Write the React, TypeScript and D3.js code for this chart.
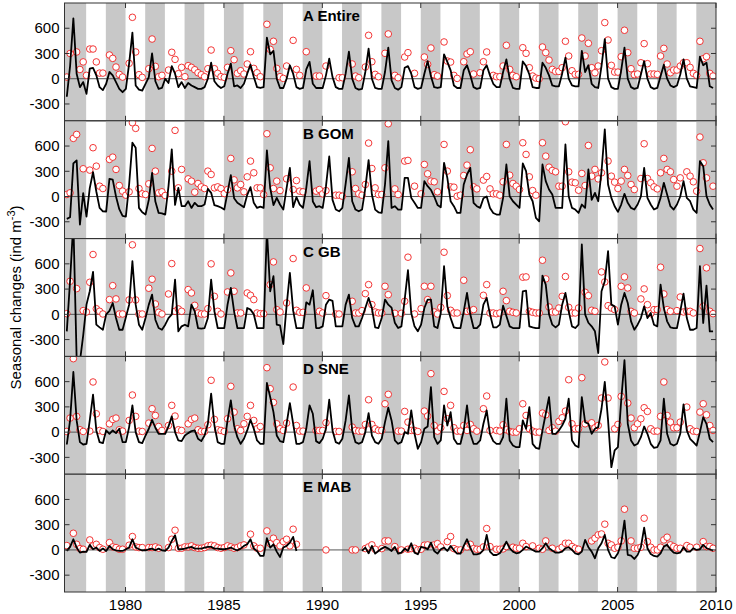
import React from 'react';
import * as d3 from 'd3';

// bimonthly samples, 6 per year, 1977..2009
const firstYear = 1977;
const lastYear = 2009;
const perYear = 6;
const xTicks = [1980, 1985, 1990, 1995, 2000, 2005, 2010];
const yTicks = [-300, 0, 300, 600];
const panelTitles = ['A Entire', 'B GOM', 'C GB', 'D SNE', 'E MAB'];
const N = null;

const lineA = [
  [-214,150,718,60,-100,-40],[-180,120,130,40,-100,-135],[-60,80,40,-40,-120,-160],[-120,180,548,-80,-130,-140],
  [-60,20,300,-30,-120,-110],[0,-50,150,60,-100,-40],[-110,-50,-80,-100,-120,-120],[-100,0,190,-30,-80,-110],
  [-90,60,180,-90,-80,-110],[-60,60,167,20,-100,-110],[-100,488,290,330,0,-110],[-110,0,160,60,-100,-120],
  [-110,110,200,-60,-110,-110],[-110,40,238,20,-100,-120],[-120,60,322,0,-110,-130],[-120,80,357,0,-110,-120],
  [-120,80,369,-20,-110,-130],[-100,130,150,60,-100,-120],[-110,60,210,30,-100,-110],[-100,290,200,100,-80,-110],
  [-110,100,160,40,-100,-120],[-110,100,160,40,-60,-100],[-100,80,230,0,-110,-120],[-120,206,150,50,-100,-110],
  [-110,190,130,40,-80,-90],[-90,60,250,0,-80,-90],[-90,330,80,160,-60,-100],[-110,150,470,0,-100,-120],
  [-120,100,370,0,-100,-120],[-110,50,210,0,-100,-120],[-110,30,167,0,-80,-100],[-80,50,230,0,-90,-100],
  [-110,262,160,190,-90,-110],
];
const obsA = [
  [20,300,N,318,110,200],[40,353,353,200,67,67],[N,282,242,139,52,20],[N,183,730,318,48,16],
  [N,119,472,147,24,40],[N,103,314,230,60,135],[24,155,135,107,71,48],[24,119,341,119,64,24],
  [16,135,333,226,64,95],[56,175,321,123,71,24],[N,647,349,445,123,24],[4,151,N,456,111,40],
  [N,321,N,N,32,32],[N,151,N,N,N,12],[12,N,N,175,32,12],[N,139,516,202,52,24],
  [N,302,532,N,40,12],[N,258,310,N,64,N],[N,258,171,365,48,32],[N,437,210,198,40,4],
  [N,202,294,321,56,N],[71,202,318,N,40,24],[24,151,397,111,40,24],[N,369,302,131,32,8],
  [0,377,310,222,111,87],[87,131,445,270,95,52],[52,484,270,421,131,71],[151,333,667,460,159,79],
  [79,262,576,310,119,48],[56,190,417,179,56,56],[52,270,361,175,71,103],[103,151,190,190,135,64],
  [40,445,238,262,64,32],
];

const lineB = [
  [-266,-246,393,429,-333,40],[-238,100,290,60,-135,-175],[-180,210,200,0,-150,-230],[-238,143,640,580,-135,-187],
  [-214,-40,280,-60,-195,-200],[-214,120,560,-100,103,-115],[-115,-56,-135,-75,-115,-115],[-95,91,44,-103,-115,-130],
  [-155,50,254,-20,-75,-100],[-127,20,111,-75,-135,-120],[-135,548,103,-103,-16,-95],[-155,100,341,-127,-8,-95],
  [-135,100,421,-60,-127,-115],[-135,120,476,-40,-155,-175],[-135,150,460,-56,-155,-175],[-155,100,433,24,-155,-187],
  [-195,143,659,-135,-115,-155],[-155,222,222,-16,-75,-135],[-135,183,123,80,0,-100],[-127,401,222,-56,-115,-195],
  [-195,143,262,341,-75,-115],[-135,-20,0,-135,-195,-214],[-214,-16,381,4,-56,-95],[-135,393,302,24,-56,-254],
  [-294,381,183,83,24,-135],[-135,-135,619,4,-135,-155],[-195,-95,-135,321,-40,44],[-56,300,798,143,-16,-115],
  [-183,-95,32,-75,-135,-155],[-95,0,341,-16,-95,-155],[-135,-16,163,24,-115,-155],[-95,0,183,-16,-56,-155],
  [-195,421,361,4,-95,-155],
];
const obsB = [
  [24,44,691,738,N,330],[N,314,580,361,123,95],[N,441,468,322,131,64],[16,56,877,810,95,32],
  [24,151,572,302,44,56],[12,N,302,786,103,322],[N,210,183,52,155,115],[95,302,262,103,115,95],
  [36,83,453,198,103,143],[56,234,421,282,103,103],[24,746,341,95,183,71],[N,210,N,83,190,64],
  [56,N,N,N,64,83],[32,71,N,N,16,16],[4,N,N,294,95,32],[16,143,635,333,103,24],
  [24,341,865,N,91,24],[N,421,429,N,123,N],[32,381,270,183,175,56],[N,619,302,115,111,4],
  [16,250,373,556,115,91],[N,195,238,91,32,32],[16,175,619,254,155,123],[83,639,500,234,71,16],
  [N,639,480,349,310,294],[123,123,889,294,171,163],[75,274,131,607,242,322],[210,282,N,421,242,171],
  [95,183,322,250,143,83],[N,214,627,214,163,115],[91,282,453,322,294,202],[123,222,N,294,242,175],
  [64,707,401,222,N,123],
];

const lineC = [
  [-202,400,1100,-520,-560,-250],[115,274,504,-123,-155,-183],[0,40,135,-44,-183,-183],[-36,115,631,115,-123,-183],
  [-44,115,234,-64,-163,-183],[-123,-44,0,413,-202,-143],[-123,-143,115,36,-163,-170],[-163,-44,413,36,-163,-163],
  [-163,115,314,36,-163,-163],[-163,75,56,0,-163,-163],[-163,1000,274,453,-123,-131],[-353,100,492,44,-163,-163],
  [-163,143,115,286,-163,-163],[-143,115,175,160,-143,-143],[-143,115,234,-44,-143,-143],[-44,75,195,75,-155,-163],
  [-44,175,115,80,-100,-163],[-143,175,524,16,-143,-202],[-123,75,175,175,-143,-163],[16,572,95,-44,-155,-163],
  [-163,36,254,0,-163,-163],[-123,115,195,0,-155,-155],[-123,103,-20,-143,-163,-163],[-163,274,282,-143,-155,-163],
  [-163,460,353,0,-123,-155],[-123,115,254,36,-143,-163],[-123,830,0,-100,-143,-202],[-460,274,393,750,115,95],
  [-123,115,254,135,-83,-183],[-123,-44,95,-44,16,-123],[-143,353,75,-83,-155,-163],[-163,36,246,-44,-183,-183],
  [-163,572,-103,341,-202,-202],
];
const obsC = [
  [8,393,N,306,N,44],[28,381,711,67,36,4],[N,175,341,183,4,4],[N,171,826,171,4,4],
  [N,310,417,123,24,4],[N,242,603,36,64,36],[N,294,254,107,16,4],[4,67,600,214,36,4],
  [N,266,492,274,16,16],[N,254,226,175,16,8],[8,N,353,623,56,28],[N,135,N,663,48,24],
  [24,314,N,N,N,36],[16,222,N,N,4,4],[N,N,N,155,16,16],[44,246,353,115,28,16],
  [16,333,234,N,12,N],[12,155,679,N,4,N],[67,333,175,333,28,4],[83,738,222,48,16,16],
  [N,405,36,44,56,N],[N,226,353,16,16,8],[16,274,163,36,24,16],[N,441,445,36,24,16],
  [16,643,421,87,28,28],[75,214,449,83,16,16],[75,N,262,222,48,36],[N,504,385,103,75,56],
  [N,333,445,314,36,16],[N,183,302,115,8,56],[56,560,242,56,36,N],[44,206,28,36,36,16],
  [N,782,95,552,36,8],
];

const lineD = [
  [-147,139,715,139,-119,-147],[-139,139,445,20,-119,-131],[20,-20,20,-12,40,-119],[-119,60,318,0,-119,-131],
  [-40,40,147,52,-20,-20],[-20,67,187,0,-99,-107],[-40,-12,12,20,-79,-107],[-40,99,457,79,-119,-139],
  [-139,139,377,79,-60,-139],[-79,20,147,40,-99,-139],[-139,584,417,238,-40,-107],[-119,99,345,100,-139,-139],
  [-119,40,318,218,-107,-131],[-79,40,385,20,-119,-139],[-79,139,437,20,-119,-139],[-119,0,226,-40,-119,-139],
  [-79,119,290,139,-99,-139],[-119,0,-20,258,-20,-198],[-119,40,67,536,-60,-139],[-99,318,79,238,-79,-139],
  [-139,20,318,-20,-139,-139],[-99,99,258,-20,-107,-139],[-139,-60,397,-99,-159,-179],[-179,139,40,298,-139,-187],
  [-198,20,218,417,-20,-20],[20,79,159,397,-99,-159],[-179,417,119,99,-20,40],[60,278,596,139,-417,-218],
  [-179,377,854,99,-99,-159],[-139,-60,67,-20,-139,-187],[-179,-99,397,-20,-139,-159],[-139,-20,330,20,-79,-119],
  [-159,0,179,99,-79,-119],
];
const obsD = [
  [8,167,873,187,28,8],[N,12,596,218,20,8],[N,99,151,167,28,12],[N,139,441,187,12,8],
  [N,107,278,198,67,20],[N,79,318,191,28,20],[N,99,151,167,28,8],[8,87,616,151,28,20],
  [8,159,544,238,40,20],[99,187,318,139,40,67],[N,766,516,353,99,40],[20,107,N,536,79,12],
  [12,N,N,N,20,20],[20,111,N,N,8,8],[N,N,N,60,20,12],[12,91,385,91,40,20],
  [20,337,449,N,N,12],[12,246,119,20,20,8],[N,250,191,695,79,12],[52,484,159,318,52,12],
  [12,79,20,91,40,12],[N,278,429,20,N,20],[12,87,28,8,0,0],[40,337,198,40,12,0],
  [0,226,206,20,52,12],[127,171,250,623,99,40],[40,647,99,N,111,52],[79,405,834,405,N,40],
  [91,425,N,345,167,52],[99,159,290,246,40,12],[12,187,596,198,119,52],[52,119,N,298,40,12],
  [8,238,337,206,79,20],
];

const lineE = [
  [-12,36,127,28,-32,-20],[-24,60,8,28,-12,16],[-12,48,8,-4,-12,-12],[8,28,127,28,8,-4],
  [-4,8,16,-4,16,-4],[-12,28,107,175,8,8],[16,28,36,16,16,16],[28,36,36,16,16,8],
  [8,16,28,8,-4,16],[48,67,127,16,-12,-71],[-71,139,28,67,-20,-85],[28,48,87,155,-12,N],
  [N,N,N,N,N,N],[N,N,N,N,N,N],[N,N,N,N,N,N],[-12,28,-40,48,-44,-12],
  [16,36,16,-12,36,-44],[-32,16,-12,79,-32,-52],[36,28,8,87,-12,-44],[8,28,-12,48,-4,-44],
  [-44,48,127,28,-52,-52],[-40,0,179,-20,-60,-60],[-40,20,99,20,-20,-40],[-32,0,40,20,0,-20],
  [-20,20,79,20,-8,-32],[-32,-20,20,32,0,-40],[-52,-20,119,32,-20,-99],[20,79,179,0,-87,-99],
  [-40,79,349,-60,-67,-107],[-60,32,266,20,-48,-71],[-79,-40,40,60,8,-32],[-40,-32,32,-20,-20,20],
  [0,8,60,20,8,-8],
];
const obsE = [
  [52,N,198,67,16,8],[N,119,48,67,28,8],[N,87,36,28,8,8],[N,56,159,36,28,28],
  [N,28,28,36,20,N],[N,28,127,234,20,20],[36,36,48,28,20,20],[28,48,56,48,28,20],
  [28,48,36,20,28,48],[60,N,187,48,20,20],[N,226,75,139,87,48],[99,127,48,246,67,N],
  [N,N,N,N,N,N],[N,0,N,N,N,N],[N,N,N,0,0,N],[N,16,36,60,8,N],
  [16,107,107,N,40,N],[0,N,8,16,20,0],[8,56,60,N,60,75],[36,N,99,159,16,0],
  [0,N,36,67,16,8],[8,36,254,40,N,8],[8,12,40,N,32,20],[20,79,40,N,48,N],
  [20,8,107,N,20,N],[8,32,79,79,40,20],[8,N,N,N,107,139],[179,190,306,79,60,20],
  [32,107,484,N,107,20],[20,32,377,99,32,0],[0,32,119,151,60,40],[20,20,N,52,32,N],
  [32,N,99,40,40,20],
];

const panelLines = [lineA, lineB, lineC, lineD, lineE];
const panelObs = [obsA, obsB, obsC, obsD, obsE];

const FONT = '"Liberation Sans", Arial, Helvetica, sans-serif';

type Pt = { t: number; v: number | null };

function toSeries(rows: (number | null)[][]): Pt[] {
  const out: Pt[] = [];
  rows.forEach((row, yi) => {
    row.forEach((v, k) => {
      out.push({ t: firstYear + yi + 1 / 60 + k / perYear, v });
    });
  });
  return out;
}

export default function App() {
  const W = 736, H = 614;
  const left = 64.5, right = 716, top = 3, bottom = 592;
  const nP = 5;
  const ph = (bottom - top) / nP;
  const x = d3.scaleLinear().domain([1976.9, 2010]).range([left, right]);
  const stripeYears = d3.range(firstYear, lastYear + 1).filter((y) => y % 2 === 1);

  return (
    <svg width={W} height={H} style={{ position: 'absolute', left: 0, top: 0, background: '#fff' }} fontFamily={FONT}>
      <rect x={0} y={0} width={W} height={H} fill="#fff" />
      {panelTitles.map((title, p) => {
        const pt = top + p * ph;
        const y = d3.scaleLinear().domain([-500, 900]).range([pt + ph, pt]);
        const line = d3
          .line<Pt>()
          .defined((d) => d.v !== null)
          .x((d) => x(d.t))
          .y((d) => y(d.v as number));
        const ls = toSeries(panelLines[p]);
        const os = toSeries(panelObs[p]).filter((d) => d.v !== null);
        const cid = `clip${p}`;
        return (
          <g key={p}>
            <defs>
              <clipPath id={cid}>
                <rect x={left} y={pt} width={right - left} height={ph} />
              </clipPath>
            </defs>
            <g clipPath={`url(#${cid})`}>
              {stripeYears.map((yr) => {
                const x0 = yr === firstYear ? x.domain()[0] : yr;
                return (
                  <rect key={yr} x={x(x0)} y={pt} width={x(yr + 1) - x(x0)} height={ph} fill="#c8c8c8" />
                );
              })}
              <line x1={left} x2={right} y1={y(0)} y2={y(0)} stroke="#555" strokeWidth={1} />
              {os.map((d, i) => (
                <circle key={i} cx={x(d.t)} cy={y(d.v as number)} r={3.3} fill="#fff" stroke="#f02020" strokeWidth={0.9} />
              ))}
              <path d={line(ls) || ''} fill="none" stroke="#000" strokeWidth={1.8} strokeLinejoin="round" />
            </g>
            <rect x={left} y={pt} width={right - left} height={ph} fill="none" stroke="#333" strokeWidth={1} />
            {xTicks.map((t) => (
              <g key={t}>
                <line x1={x(t)} x2={x(t)} y1={pt} y2={pt + 5} stroke="#333" strokeWidth={1} />
                <line x1={x(t)} x2={x(t)} y1={pt + ph} y2={pt + ph - 5} stroke="#333" strokeWidth={1} />
              </g>
            ))}
            {yTicks.map((v) => (
              <g key={v}>
                <line x1={left} x2={left + 5} y1={y(v)} y2={y(v)} stroke="#333" strokeWidth={1} />
                <line x1={right} x2={right - 5} y1={y(v)} y2={y(v)} stroke="#333" strokeWidth={1} />
                <text x={left - 5} y={y(v)} dy="0.35em" textAnchor="end" fontSize={15} fill="#000">
                  {v}
                </text>
              </g>
            ))}
            <text x={303} y={pt + 18} fontSize={15} fontWeight="bold" fill="#000">
              {title}
            </text>
          </g>
        );
      })}
      {xTicks.map((t) => (
        <text key={t} x={x(t)} y={bottom + 18} textAnchor="middle" fontSize={15} fill="#000">
          {t}
        </text>
      ))}
      <text transform={`translate(21,${(top + bottom) / 2}) rotate(-90)`} textAnchor="middle" fontSize={15} fill="#000">
        Seasonal changes (ind m
        <tspan dy={-6} fontSize={11}>-3</tspan>
        <tspan dy={6}>)</tspan>
      </text>
    </svg>
  );
}
